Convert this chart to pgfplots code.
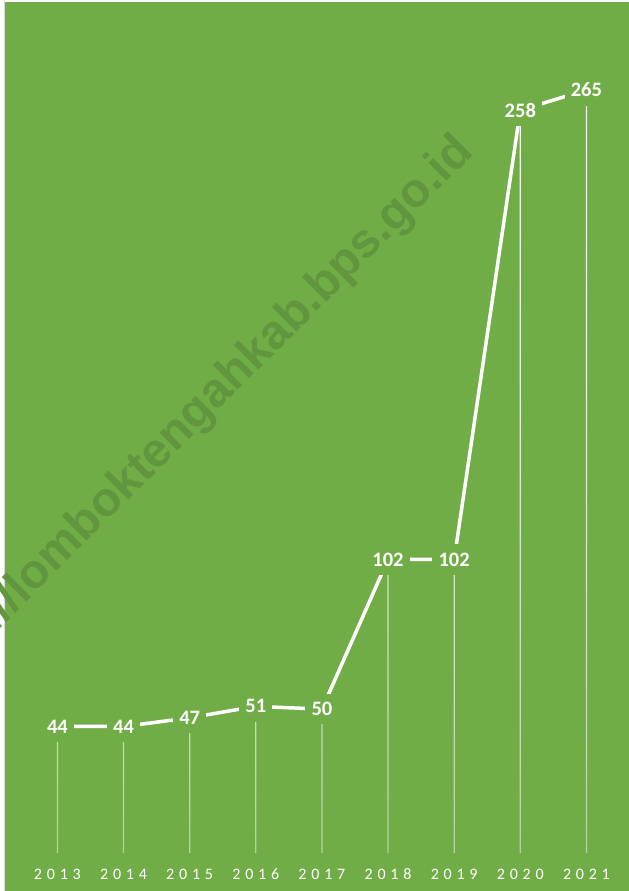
\documentclass[border=0pt]{standalone}
\usepackage{fontspec}
\setmainfont{Carlito}
\newfontfamily\wmfont{Liberation Sans}
\usepackage{pgfplots}
\pgfplotsset{compat=1.18}
\definecolor{bg}{RGB}{112,173,71}
\colorlet{wm}{bg!87!black}
\pgfdeclareverticalshading{drop}{100bp}{color(0bp)=(bg); color(30bp)=(white!55!bg); color(65bp)=(white!92!bg); color(100bp)=(white)}
\newcommand\yr[4]{#1\kern4.8bp#2\kern4.8bp#3\kern4.8bp#4}
\begin{document}
\begin{tikzpicture}
\fill[white] (0,0) rectangle (629bp,891bp);
\draw[black!15, line width=1bp] (4bp,0) -- (4bp,891bp);
\begin{axis}[at={(5bp,0bp)}, anchor=south west, scale only axis,
  width=624bp, height=889bp,
  xmin=2012.2076, xmax=2021.644, ymin=-13.125, ymax=295.56,
  axis background/.style={fill=bg},
  axis line style={draw=none},
  major tick length=0pt,
  ytick=\empty,
  xtick={2013,2014,2015,2016,2017,2018,2019,2020,2021},
  xticklabels={\yr2013,\yr2014,\yr2015,\yr2016,\yr2017,\yr2018,\yr2019,\yr2020,\yr2021},
  x tick label style={font=\fontsize{16bp}{18bp}\selectfont, text=white, anchor=center, yshift=16.7bp},
  clip=false,
  /pgf/number format/assume math mode=true,
]
\addplot[ybar, bar width=1.2bp, draw=none, shade, shading=drop]
  coordinates {(2013,44) (2014,44) (2015,47) (2016,51) (2017,50) (2018,102) (2019,102) (2020,258) (2021,265)};
\addplot[white, line width=3.5bp, mark=none, nodes near coords, nodes near coords align={center},
  every node near coord/.append style={font=\bfseries\fontsize{20.5bp}{24bp}\selectfont, text=white, fill=bg, inner xsep=6.3bp, inner ysep=8.5bp}]
  coordinates {(2013,44) (2014,44) (2015,47) (2016,51) (2017,50) (2018,102) (2019,102) (2020,258) (2021,265)};
\end{axis}
\node[rotate=45, text=wm, font=\wmfont\bfseries\fontsize{48bp}{56bp}\selectfont] at (241bp,521bp) {\llap{https://}lomboktengahkab.bps.go.id};
\pgfresetboundingbox
\path[use as bounding box] (0,0) rectangle (629bp,891bp);
\end{tikzpicture}
\end{document}
